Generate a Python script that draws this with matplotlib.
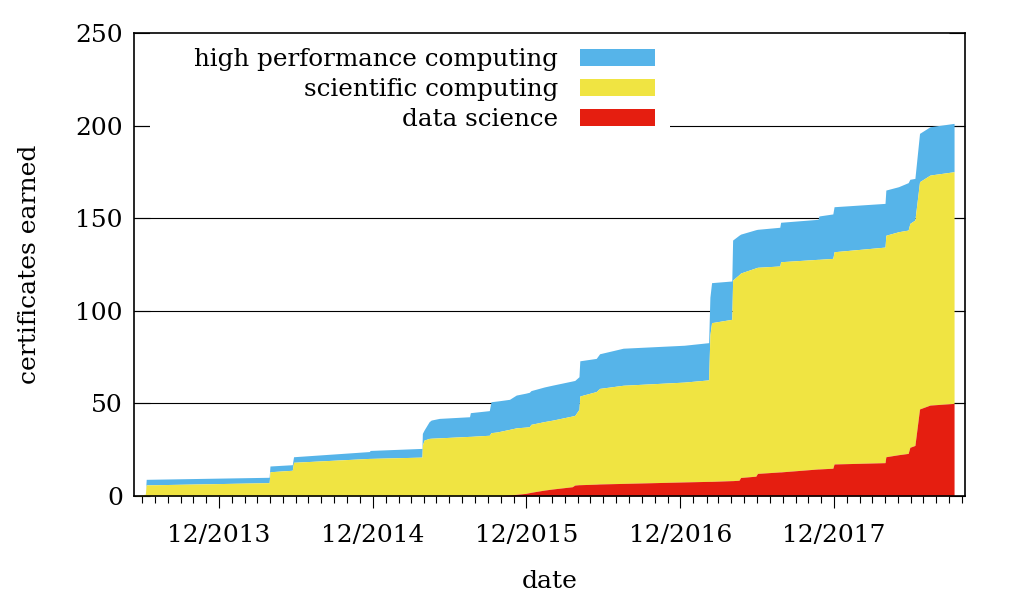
import matplotlib
matplotlib.use("Agg")
import matplotlib.pyplot as plt
import matplotlib.dates as mdates
from matplotlib.patches import Patch, Rectangle
import numpy as np
import pandas as pd

# ---- data (cumulative certificates per track) ----
dates = [
    "2013-05-13", "2013-06-09", "2013-06-11", "2014-03-30", "2014-04-01",
    "2014-05-24", "2014-05-27", "2014-11-23", "2014-11-25", "2015-03-28",
    "2015-03-29", "2015-04-02", "2015-04-14", "2015-04-19", "2015-05-08",
    "2015-07-19", "2015-07-21", "2015-09-04", "2015-09-08", "2015-09-23",
    "2015-10-22", "2015-11-07", "2015-11-29", "2015-12-08", "2015-12-12",
    "2016-01-13", "2016-02-02", "2016-03-19", "2016-03-25", "2016-04-04",
    "2016-04-06", "2016-05-15", "2016-05-23", "2016-07-18", "2016-12-10",
    "2017-02-06", "2017-02-09", "2017-02-13", "2017-04-02", "2017-04-04",
    "2017-04-19", "2017-04-23", "2017-05-29", "2017-06-02", "2017-07-25",
    "2017-07-27", "2017-10-24", "2017-10-26", "2017-11-28", "2017-12-01",
    "2018-04-01", "2018-04-03", "2018-05-03", "2018-05-26", "2018-05-30",
    "2018-06-11", "2018-06-22", "2018-07-17", "2018-09-12",
]
data_science = [
    0, 0, 0, 0, 0,
    0, 0, 0, 0, 0,
    0, 0, 0, 0, 0,
    0, 0, 0, 0, 0,
    0.5, 0.9, 1.4, 1.8, 2.0,
    3.2, 3.8, 5.0, 5.9, 6.1,
    6.1, 6.4, 6.5, 6.8, 7.6,
    7.9, 7.9, 7.9, 8.3, 8.3,
    8.5, 10.0, 10.7, 12.2, 13.0,
    13.0, 14.6, 14.6, 15.0, 17.3,
    18.0, 21.2, 22.3, 23.0, 26.3,
    27.3, 47.0, 49.1, 50.0,
]
scientific_computing = [
    0, 1, 6, 7.2, 13.1,
    13.9, 18.2, 20.3, 20.3, 21.0,
    27.5, 30.2, 31.1, 31.2, 31.4,
    32.2, 32.2, 32.8, 34.2, 34.6,
    35.5, 35.9, 35.8, 35.6, 36.7,
    37.0, 37.2, 38.2, 37.6, 40.7,
    47.9, 50.0, 51.6, 53.0, 53.9,
    54.8, 79.1, 85.7, 87.1, 108.3,
    111.0, 110.4, 112.5, 111.3, 111.2,
    113.5, 113.2, 113.2, 113.3, 114.6,
    116.4, 119.6, 120.4, 120.6, 120.9,
    121.7, 122.7, 124.2, 125.1,
]
high_performance_computing = [
    0, 0, 3, 2.9, 3.1,
    3.0, 3.0, 3.7, 4.3, 4.7,
    6.3, 5.4, 9.0, 9.8, 10.5,
    10.6, 12.8, 13.3, 16.7, 16.7,
    16.2, 17.7, 18.3, 18.6, 18.2,
    18.7, 18.9, 18.9, 18.9, 17.6,
    19.0, 17.9, 18.7, 20.0, 19.9,
    20.1, 20.3, 21.6, 20.7, 21.6,
    21.3, 21.0, 20.6, 20.5, 20.9,
    21.3, 21.6, 23.4, 24.0, 24.3,
    23.6, 24.4, 24.3, 25.6, 23.8,
    22.5, 26.1, 26.1, 26.1,
]
series_names = ["high performance computing", "scientific computing", "data science"]
colors = ["#56B4E9", "#F0E442", "#E51E10"]
xtick_dates = ["2013-12-01", "2014-12-01", "2015-12-01", "2016-12-01", "2017-12-01"]
yticks = [0, 50, 100, 150, 200, 250]

# ---- plotting ----
FS = 18
plt.rcParams["font.family"] = ["DejaVu Serif"]
plt.rcParams["font.size"] = FS

x = pd.to_datetime(dates)
ds = np.array(data_science, dtype=float)
sc = np.array(scientific_computing, dtype=float)
hpc = np.array(high_performance_computing, dtype=float)
lvl1 = ds
lvl2 = ds + sc
lvl3 = ds + sc + hpc

W, H = 1013, 600
fig = plt.figure(figsize=(W / 100, H / 100), dpi=100)
L, R, T, B = 134, 965, 33, 496
ax = fig.add_axes([L / W, 1 - B / H, (R - L) / W, (B - T) / H])
ax.set_axisbelow(True)

ax.fill_between(x, lvl2, lvl3, color=colors[0], lw=0, zorder=3)
ax.fill_between(x, lvl1, lvl2, color=colors[1], lw=0, zorder=3)
ax.fill_between(x, 0, lvl1, color=colors[2], lw=0, zorder=3)

ax.set_xlim(pd.Timestamp("2013-05-13"), pd.Timestamp("2018-10-08"))
ax.set_ylim(0, 250)
ax.set_yticks(yticks)
ax.set_xticks(pd.to_datetime(xtick_dates))
ax.xaxis.set_major_formatter(mdates.DateFormatter("%m/%Y"))
ax.xaxis.set_minor_locator(mdates.MonthLocator())

for yv in yticks[1:-1]:
    ax.axhline(yv, color="black", lw=0.8, zorder=1)

ax.tick_params(axis="y", which="major", direction="in", length=11.5, width=0.8,
               left=True, right=True, pad=8, labelsize=FS)
ax.tick_params(axis="x", which="major", direction="out", length=8.5, width=0.8,
               top=False, pad=12, labelsize=FS)
ax.tick_params(axis="x", which="minor", direction="out", length=5, width=0.8, top=False)
for s in ax.spines.values():
    s.set_linewidth(1.2)
    s.set_zorder(5)

ax.set_xlabel("date", labelpad=16.5, fontsize=FS)
ax.set_ylabel("certificates earned", labelpad=25, fontsize=FS)

# white key background (hides grid behind the key, like the original)
ax.add_patch(Rectangle(((150 - L) / (R - L), (B - 142) / (B - T)),
                       (670 - 150) / (R - L), (142 - T) / (B - T),
                       transform=ax.transAxes, facecolor="white", edgecolor="none", zorder=1.5))

handles = [Patch(facecolor=c, edgecolor="none") for c in colors]
leg = ax.legend(handles, series_names, loc="upper right",
                bbox_to_anchor=(670 / W, 1 - 33 / H), bbox_transform=fig.transFigure,
                markerfirst=False, frameon=False, handlelength=3.05, handleheight=0.68,
                handletextpad=0.9, labelspacing=0.29, borderpad=0.6, borderaxespad=0,
                fontsize=17.7)
leg.set_zorder(4)

fig.savefig("out.png", dpi=100)
